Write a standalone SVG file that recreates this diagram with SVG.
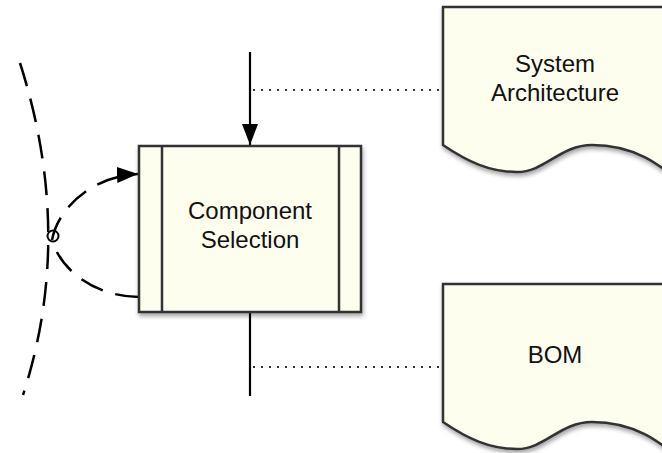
<svg xmlns="http://www.w3.org/2000/svg" width="662" height="453" viewBox="0 0 662 453">
<style>
.shape{fill:#fefeee;stroke:#333;stroke-width:2.5;filter:url(#sh)}
.bar{stroke:#333;stroke-width:2.5;fill:none}
.lbl{font-family:"Liberation Sans",Arial,sans-serif;font-size:24px;fill:#111;text-anchor:middle}
.solid{stroke:#000;stroke-width:2.2;fill:none}
.dot{stroke:#333;stroke-width:2;stroke-dasharray:2,6;fill:none}
.dash{stroke:#000;stroke-width:2.5;stroke-dasharray:24,13;fill:none}
</style>
<defs>
<filter id="sh" x="-10%" y="-10%" width="130%" height="130%">
<feDropShadow dx="1" dy="3" stdDeviation="2" flood-color="#000" flood-opacity="0.35"/>
</filter>
<marker id="ah" markerWidth="22" markerHeight="18" refX="21" refY="8" orient="auto" markerUnits="userSpaceOnUse">
<path d="M0,0 L21,8 L0,16 Z" fill="#000"/>
</marker>
</defs>
<rect width="662" height="453" fill="#fff"/>
<g id="connectors">
<path class="dash" d="M20,63 Q75,235 23,395"/>
<path class="dash" d="M139,297 C100,297 62,274 52,240 C58,208 92,176 138,174" marker-end="url(#ah)"/>
<circle cx="53" cy="236" r="5.5" fill="none" stroke="#000" stroke-width="2"/>
<line class="solid" x1="250" y1="52" x2="250" y2="145" marker-end="url(#ah)"/>
<line class="solid" x1="250" y1="312" x2="250" y2="396"/>
<line class="dot" x1="253" y1="90" x2="443" y2="90"/>
<line class="dot" x1="253" y1="367" x2="443" y2="367"/>
</g>
<g id="component-selection">
<rect class="shape" x="139" y="146" width="222" height="166"/>
<line class="bar" x1="162" y1="146" x2="162" y2="312"/>
<line class="bar" x1="339" y1="146" x2="339" y2="312"/>
<text class="lbl" x="250" y="219">Component</text>
<text class="lbl" x="250" y="248">Selection</text>
</g>
<g id="system-architecture">
<path class="shape" d="M443,7 L680,7 L680,182 C660,165 635,145 592,145 C560,145 545,172 517,172 C490,172 468,162 443,145 Z"/>
<text class="lbl" x="555" y="72">System</text>
<text class="lbl" x="555" y="101">Architecture</text>
</g>
<g id="bom">
<path class="shape" d="M443,284 L680,284 L680,459 C660,442 635,422 592,422 C560,422 545,449 517,449 C490,449 468,439 443,422 Z"/>
<text class="lbl" x="555" y="363">BOM</text>
</g>
</svg>
